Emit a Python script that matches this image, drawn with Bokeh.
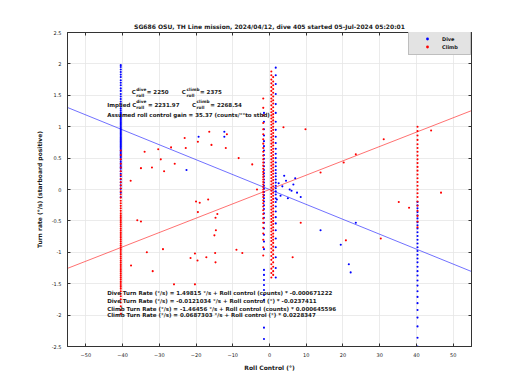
import numpy as np
from bokeh.plotting import figure
from bokeh.models import Label, LinearAxis, FixedTicker, Range1d, Legend, LegendItem
from bokeh.embed import file_html
from bokeh.resources import INLINE

title_text = "SG686 OSU, TH Line mission, 2024/04/12, dive 405 started 05-Jul-2024 05:20:01"
x_label = "Roll Control (°)"
y_label = "Turn rate (°/s) (starboard positive)"
x_ticks = [-50, -40, -30, -20, -10, 0, 10, 20, 30, 40, 50]
y_ticks = [-2.5, -2, -1.5, -1, -0.5, 0, 0.5, 1, 1.5, 2, 2.5]
y_tick_labels = ["-2.5", "-2", "-1.5", "-1", "-0.5", "0", "0.5", "1", "1.5", "2", "2.5"]

# ---- Dive points (blue) ----
dive_col_left_x = -40.5
dive_col_left_y = [1.98, 1.95, 1.91, 1.87, 1.83, 1.79, 1.74, 1.70, 1.66, 1.61, 1.57, 1.52, 1.48,
                   1.44, 1.40, 1.36, 1.32, 1.29, 1.26, 1.23, 1.21, 1.19, 1.17, 1.15, 1.13, 1.11,
                   1.09, 1.07, 1.05, 1.03, 1.01, 0.99, 0.97, 0.95, 0.93, 0.91, 0.89, 0.87, 0.85,
                   0.83, 0.81, 0.79, 0.77, 0.75, 0.73, 0.71, 0.69, 0.67, 0.65, 0.63, 0.61, 0.59,
                   0.57, 0.55, 0.53, 0.51, 0.48, 0.45, 0.42, 0.39, 0.36, 0.33, 0.29, 0.25, 0.21,
                   0.16, 0.11, 0.06, 0.01, -0.05, -0.12]
dive_col_c1_x = 1.7
dive_col_c1_y = [1.94, 1.82, 1.68, 1.52, 1.36, 1.22, 1.08, 0.95, 0.84, 0.74, 0.65, 0.57, 0.50,
                 0.43, 0.37, 0.31, 0.26, 0.21, 0.16, 0.11, 0.06, 0.02, -0.03, -0.08, -0.14, -0.20,
                 -0.27, -0.35, -0.44, -0.54, -0.65, -0.78, -0.92, -1.08, -1.25, -1.40]
dive_col_c2_x = -1.5
dive_col_c2_y = [1.22, 1.08, 0.96, 0.86, 0.77, 0.69, 0.62, 0.55, 0.49, 0.43, 0.37, 0.31, 0.26,
                 0.21, 0.16, 0.11, 0.06, 0.01, -0.04, -0.09, -0.14, -0.19, -0.25, -0.31, -0.38,
                 -0.45, -0.53, -0.62, -0.72, -0.83, -0.95, -1.28, -1.36, -1.44, -1.52, -1.60,
                 -1.68, -1.76, -2.20, -2.38]
dive_col_right_x = 40.3
dive_col_right_y = [-0.20, -0.25, -0.30, -0.36, -0.41, -0.46, -0.52, -0.57, -0.62, -0.68, -0.74,
                    -0.80, -0.86, -0.92, -0.98, -1.04, -1.10, -1.16, -1.23, -1.30, -1.37, -1.45,
                    -1.53, -1.62, -1.71, -1.81, -1.92, -2.04, -2.18, -2.36, -2.50]
dive_misc_x = [2.5, 3.5, 4.5, 5.5, 6.5, 7.5, 3.0, 5.0, 7.0, 4.0, 6.0, 8.5, 2.0,
               -19.3, -12.3, -12.3, -22.6, 19.4, 21.6, 22.1, 13.9, 23.5]
dive_misc_y = [0.10, 0.05, 0.14, 0.00, 0.08, -0.05, -0.10, -0.14, 0.18, 0.22, -0.02, -0.12, -0.16,
               0.84, 0.92, 0.84, 0.31, -0.88, -1.19, -1.32, -0.65, -0.53]

# ---- Climb points (red) ----
climb_col_left_x = -40.5
climb_col_left_y = [0.62, 0.55, 0.48, 0.41, 0.35, 0.29, 0.23, 0.17, 0.12, 0.07, 0.02, -0.03,
                    -0.08, -0.13, -0.18, -0.22, -0.26, -0.30, -0.34, -0.38, -0.41, -0.44, -0.47,
                    -0.50, -0.53, -0.56, -0.59, -0.62, -0.65, -0.68, -0.71, -0.74, -0.77, -0.80,
                    -0.83, -0.86, -0.89, -0.92, -0.95, -0.98, -1.01, -1.04, -1.07, -1.10, -1.13,
                    -1.16, -1.19, -1.22, -1.25, -1.28, -1.31, -1.34, -1.37, -1.40, -1.43, -1.46,
                    -1.49, -1.52, -1.55, -1.58, -1.62, -1.66, -1.70, -1.75, -1.80, -1.86, -1.92,
                    -1.98]
climb_col_c1a_x = 0.5
climb_col_c1a_y = [1.88, 1.82, 1.75, 1.69, 1.63, 1.57, 1.51, 1.45, 1.40, 1.34, 1.28, 1.23, 1.18,
                   1.13, 1.08, 1.03, 0.98, 0.93, 0.88, 0.83, 0.78, 0.73, 0.68, 0.63, 0.58, 0.53,
                   0.48, 0.43, 0.38, 0.33, 0.28, 0.23, 0.18, 0.13, 0.08, 0.03, -0.02, -0.07,
                   -0.12, -0.17, -0.22, -0.27, -0.32, -0.37, -0.42, -0.47, -0.52, -0.57, -0.62,
                   -0.67, -0.72, -0.77, -0.82, -0.88, -0.94, -1.00, -1.06, -1.12, -1.19, -1.26,
                   -1.33, -1.40]
climb_col_c1b_x = 1.0
climb_col_c1b_y = [1.79, 1.72, 1.66, 1.60, 1.54, 1.48, 1.42, 1.37, 1.31, 1.25, 1.20, 1.15, 1.10,
                   1.05, 1.00, 0.95, 0.90, 0.85, 0.80, 0.75, 0.70, 0.65, 0.60, 0.55, 0.50, 0.45,
                   0.40, 0.35, 0.30, 0.25, 0.20, 0.15, 0.10, 0.05, 0.00, -0.05, -0.10, -0.15,
                   -0.20, -0.25, -0.30, -0.35, -0.40, -0.45, -0.50, -0.55, -0.60, -0.65, -0.70,
                   -0.75, -0.80, -0.85, -0.91, -0.97, -1.03, -1.09, -1.16, -1.23, -1.30, -1.36]
climb_col_c2_x = -1.7
climb_col_c2_y = [1.45, 1.30, 1.18, 1.06, 0.96, 0.88, 0.80, 0.73, 0.66, 0.60, 0.54, 0.48, 0.43,
                  0.38, 0.33, 0.28, 0.24, 0.20, 0.16, 0.12, 0.08, 0.04, 0.00, -0.04, -0.08, -0.12,
                  -0.17, -0.22, -0.27, -0.33, -0.39, -0.46, -0.53, -0.61, -0.70, -0.80, -0.92,
                  -1.05]
climb_col_right_x = 40.3
climb_col_right_y = [1.00, 0.93, 0.86, 0.79, 0.72, 0.66, 0.60, 0.54, 0.48, 0.42, 0.36, 0.30,
                     0.24, 0.18, 0.12, 0.06, 0.00, -0.06, -0.12, -0.19, -0.26, -0.34, -0.42,
                     -0.51, -0.60]
climb_misc_x = [-23.1, -16.4, -11.6, -22.8, -19.5, -15.8, -26.8, -30.3, -34.0, -11.9, -8.4, -29.6,
                -25.8, -4.7, -35.0, -32.0, -28.7, -37.8, -3.4, -20.0, -19.0, -16.7, -19.5, -14.2,
                -14.7, -36.0, -35.0, -14.6, -15.0, -29.0, -33.4, -9.0, -7.4, -20.3, -21.5, -17.2,
                -19.6, -14.8, -14.7, -37.7, -31.8, -26.0, -20.3,
                3.8, 9.8, 13.9, 20.2, 23.5, 31.1, 35.2, 30.3, 20.8, 8.5, 6.3, 44.0, 46.7, 38.0]
climb_misc_y = [0.82, 0.92, 0.88, 0.66, 0.76, 0.71, 0.67, 0.64, 0.60, 0.66, 0.50, 0.48,
                0.41, 0.40, 0.34, 0.35, 0.29, 0.14, 0.00, -0.19, -0.21, -0.16, -0.36, -0.39,
                -0.45, -0.49, -0.51, -0.65, -0.73, -0.95, -1.00, -0.96, -1.01, -1.02, -1.09, -1.08,
                -1.13, -1.01, -1.16, -1.21, -1.30, -1.51, -1.51,
                0.99, 0.96, 0.27, 0.43, 0.56, 0.80, -0.20, -0.78, -0.81, -0.53, -1.08, 0.94, -0.05, -0.29]

# ---- Fits in counts: rate = a + b * counts; counts = C_roll + gain * deg ----
fit_x_range = [-55, 55]
roll_gain = 35.37
dive_implied_c = 2231.97
climb_implied_c = 2268.54
dive_fit_counts = (1.49815, -0.000671222)
climb_fit_counts = (-1.46456, 0.000645596)

annot_lines = [
    "Dive Turn Rate (°/s) = 1.49815 °/s + Roll control (counts) * -0.000671222",
    "Dive Turn Rate (°/s) = -0.0121034 °/s + Roll control (°) * -0.0237411",
    "Climb Turn Rate (°/s) = -1.46456 °/s + Roll control (counts) * 0.000645596",
    "Climb Turn Rate (°/s) = 0.0687303 °/s + Roll control (°) * 0.0228347",
]

dx, dy = [], []
for xv, ys in [(dive_col_left_x, dive_col_left_y), (dive_col_c1_x, dive_col_c1_y),
               (dive_col_c2_x, dive_col_c2_y), (dive_col_right_x, dive_col_right_y)]:
    dx += [xv] * len(ys); dy += list(ys)
dx += dive_misc_x; dy += dive_misc_y

cx, cy = [], []
for xv, ys in [(climb_col_left_x, climb_col_left_y), (climb_col_c1a_x, climb_col_c1a_y),
               (climb_col_c1b_x, climb_col_c1b_y), (climb_col_c2_x, climb_col_c2_y),
               (climb_col_right_x, climb_col_right_y)]:
    cx += [xv] * len(ys); cy += list(ys)
cx += climb_misc_x; cy += climb_misc_y

FONT = "DejaVu Sans"
TXT = "#1a1a1a"

p = figure(width=512, height=382, output_backend="svg", toolbar_location=None,
           x_range=Range1d(-55, 55), y_range=Range1d(-2.5, 2.5),
           min_border_left=67, min_border_right=41, min_border_top=32, min_border_bottom=36)
p.title.text = title_text
p.title.align = "center"
p.title.text_font = FONT
p.title.text_font_size = "6px"
p.title.text_font_style = "bold"
p.title.text_color = TXT
p.title.standoff = 6

p.outline_line_color = "#333333"
p.outline_line_width = 0.8
p.background_fill_color = "white"
p.border_fill_color = "white"

for ax in [p.xaxis[0], p.yaxis[0]]:
    ax.major_tick_in = 3
    ax.major_tick_out = 0
    ax.minor_tick_line_color = None
    ax.axis_line_color = "#333333"
    ax.major_tick_line_color = "#333333"
    ax.major_label_text_font = FONT
    ax.major_label_text_font_size = "5px"
    ax.major_label_text_color = TXT
    ax.axis_label_text_font = FONT
    ax.axis_label_text_font_size = "6px"
    ax.axis_label_text_font_style = "bold"
    ax.axis_label_text_color = TXT

p.xaxis.ticker = FixedTicker(ticks=x_ticks)
p.yaxis.ticker = FixedTicker(ticks=y_ticks)
p.yaxis.major_label_overrides = {t: l for t, l in zip(y_ticks, y_tick_labels)}
p.xaxis.axis_label = x_label
p.yaxis.axis_label = y_label
p.xaxis.major_label_standoff = 6
p.yaxis.major_label_standoff = 6
p.xaxis.axis_label_standoff = 4
p.yaxis.axis_label_standoff = 6

top_ax = LinearAxis(ticker=FixedTicker(ticks=x_ticks),
                    major_label_overrides={t: "" for t in x_ticks},
                    major_tick_in=3, major_tick_out=0, minor_tick_line_color=None,
                    axis_line_color="#333333", major_tick_line_color="#333333",
                    major_label_standoff=0)
right_ax = LinearAxis(ticker=FixedTicker(ticks=y_ticks),
                      major_label_overrides={t: "" for t in y_ticks},
                      major_tick_in=3, major_tick_out=0, minor_tick_line_color=None,
                      axis_line_color="#333333", major_tick_line_color="#333333",
                      major_label_standoff=0)
p.add_layout(top_ax, "above")
p.add_layout(right_ax, "right")

p.xgrid.grid_line_color = "#e6e6e6"
p.ygrid.grid_line_color = "#e6e6e6"
p.xgrid.grid_line_width = 0.8
p.ygrid.grid_line_width = 0.8

fx = np.array(fit_x_range, dtype=float)
dive_line_y = dive_fit_counts[0] + dive_fit_counts[1] * (dive_implied_c + roll_gain * fx)
climb_line_y = climb_fit_counts[0] + climb_fit_counts[1] * (climb_implied_c + roll_gain * fx)
p.line(fx, dive_line_y, line_color="#3333ff", line_width=0.7)
p.line(fx, climb_line_y, line_color="#ff3333", line_width=0.7)

r_dive = p.scatter(dx, dy, size=2.1, color="#0000ff", line_color=None)
r_climb = p.scatter(cx, cy, size=2.1, color="#ff0000", line_color=None)

legend = Legend(items=[LegendItem(label="Dive", renderers=[r_dive]),
                       LegendItem(label="Climb", renderers=[r_climb])],
                location=(341, 291), orientation="vertical")
legend.background_fill_color = "#e3e3e3"
legend.background_fill_alpha = 1
legend.border_line_color = "#999999"
legend.border_line_width = 0.7
legend.label_text_font = FONT
legend.label_text_font_size = "5px"
legend.label_text_font_style = "bold"
legend.label_text_color = TXT
legend.glyph_width = 28
legend.glyph_height = 7
legend.label_height = 7
legend.label_width = 24
legend.label_standoff = 1
legend.padding = 4
legend.spacing = 1
legend.margin = 0
p.add_layout(legend, "center")

MAIN = "5.5px"
SMALL = "4.3px"

def lab(x, y, t, size=MAIN, bold=True):
    p.add_layout(Label(x=x, y=y, text=t, text_font=FONT, text_font_size=size,
                       text_font_style="bold" if bold else "normal", text_color=TXT,
                       text_baseline="middle", text_align="left"))

# C coefficient annotations
lab(-37.5, 1.545, "C")
lab(-36.3, 1.585, "dive", SMALL)
lab(-36.3, 1.49, "roll", SMALL)
lab(-33.4, 1.545, "= 2250")
lab(-23.9, 1.545, "C")
lab(-22.6, 1.585, "climb", SMALL)
lab(-22.6, 1.49, "roll", SMALL)
lab(-18.9, 1.545, "= 2375")

lab(-44.2, 1.349, "Implied C")
lab(-36.3, 1.397, "dive", SMALL)
lab(-36.3, 1.312, "roll", SMALL)
lab(-33.1, 1.349, "= 2231.97")
lab(-21.1, 1.349, "C")
lab(-19.9, 1.397, "climb", SMALL)
lab(-19.9, 1.312, "roll", SMALL)
lab(-16.1, 1.349, "= 2268.54")

lab(-44.2, 1.19, "Assumed roll control gain = 35.37 (counts/°°to stbd)")

for t, yy in zip(annot_lines, [-1.656, -1.783, -1.895, -2.006]):
    lab(-44.2, yy, t)

open("out.html", "w").write(file_html(p, INLINE))
